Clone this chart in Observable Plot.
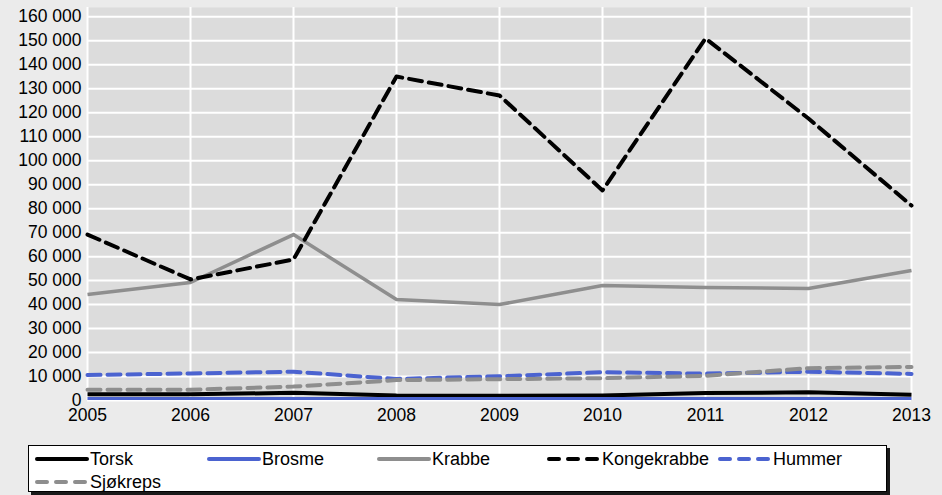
<!DOCTYPE html>
<html>
<head>
<meta charset="utf-8">
<script src="https://cdn.jsdelivr.net/npm/d3@7"></script>
<script src="https://cdn.jsdelivr.net/npm/@observablehq/plot@0.6"></script>
<style>
  html, body { margin: 0; padding: 0; background: #ebebeb; }
  #wrap { position: relative; width: 942px; height: 495px; background: #ebebeb; overflow: hidden;
          font-family: "Liberation Sans", Arial, sans-serif; }
  #chart { position: absolute; left: 0; top: 0; }
  #legend { position: absolute; left: 28px; top: 445px; width: 857px; height: 45px;
            border: 1px solid #000; background: #fff; box-shadow: 3px 3px 0 #1a1a1a; }
  .item { position: absolute; height: 20px; display: flex; align-items: center; font-size: 18px; color: #000; white-space: nowrap; }
  .item svg { display: block; margin-right: 1px; }
</style>
</head>
<body>
<div id="wrap">
  <div id="chart"></div>
  <div id="legend"></div>
</div>
<script>
const years = [2005, 2006, 2007, 2008, 2009, 2010, 2011, 2012, 2013];
const torsk = [2600, 2600, 3200, 2100, 2000, 2100, 3100, 3400, 2400];
const brosme = [800, 800, 800, 800, 800, 800, 800, 800, 800];
const krabbe = [44200, 49200, 69200, 42100, 40000, 48000, 47100, 46700, 54200];
const kongekrabbe = [69200, 50500, 58800, 135100, 127200, 87600, 151000, 117600, 81300];
const hummer = [10600, 11300, 12000, 9000, 10100, 11800, 11200, 12000, 11100];
const sjokreps = [4500, 4500, 5800, 8500, 8900, 9300, 10300, 13500, 14000];
const yTicks = [0, 10000, 20000, 30000, 40000, 50000, 60000, 70000, 80000, 90000, 100000, 110000, 120000, 130000, 140000, 150000, 160000];

const seriesNames = ["Torsk", "Brosme", "Krabbe", "Kongekrabbe", "Hummer", "Sjøkreps"];
const seriesValues = [torsk, brosme, krabbe, kongekrabbe, hummer, sjokreps];
const seriesStyle = {
  "Torsk":       {stroke: "#000000", width: 4, dash: null},
  "Brosme":      {stroke: "#4b63d0", width: 3, dash: null},
  "Krabbe":      {stroke: "#8e8e8e", width: 3.5, dash: null},
  "Kongekrabbe": {stroke: "#000000", width: 4, dash: "13,7"},
  "Hummer":      {stroke: "#4b63d0", width: 4, dash: "13,7"},
  "Sjøkreps":    {stroke: "#8e8e8e", width: 4, dash: "13,7"}
};

const fmt = d => d3.format(",")(d).replace(/,/g, " ");

const lineMarks = seriesNames.map((name, i) => {
  const data = years.map((y, j) => ({year: y, value: seriesValues[i][j]}));
  const s = seriesStyle[name];
  return Plot.line(data, {
    x: "year", y: "value", stroke: s.stroke, strokeWidth: s.width,
    strokeDasharray: s.dash, strokeLinejoin: "round", strokeLinecap: s.dash ? "round" : "butt"
  });
});

const chart = Plot.plot({
  width: 942,
  height: 432,
  marginLeft: 87,
  marginRight: 31,
  marginTop: 7,
  marginBottom: 32,
  style: {background: "transparent", fontFamily: "'Liberation Sans', Arial, sans-serif", fontSize: "17.5px", color: "#000"},
  x: {type: "linear", domain: [2005, 2013], label: null},
  y: {domain: [0, 163900], label: null},
  marks: [
    Plot.frame({fill: "#dcdcdc", stroke: null}),
    Plot.gridX(years, {stroke: "#ffffff", strokeOpacity: 1, strokeWidth: 2}),
    Plot.gridY(yTicks, {stroke: "#ffffff", strokeOpacity: 1, strokeWidth: 2}),
    Plot.axisX(years, {tickSize: 0, tickPadding: 8, tickFormat: d => String(d), fill: "#000", label: null}),
    Plot.axisY(yTicks, {tickSize: 0, tickPadding: 6, tickFormat: fmt, fill: "#000", label: null}),
    ...lineMarks
  ]
});
document.getElementById("chart").appendChild(chart);

// Legend
const legend = d3.select("#legend");
const pos = [
  {left: 6, top: 3}, {left: 178, top: 3}, {left: 348, top: 3}, {left: 518, top: 3}, {left: 689, top: 3},
  {left: 6, top: 26}
];
seriesNames.forEach((name, i) => {
  const s = seriesStyle[name];
  const item = legend.append("div").attr("class", "item")
    .style("left", pos[i].left + "px").style("top", pos[i].top + "px");
  const svg = item.append("svg").attr("width", 54).attr("height", 10);
  svg.append("line").attr("x1", 2).attr("x2", 52).attr("y1", 5).attr("y2", 5)
    .attr("stroke", s.stroke).attr("stroke-width", 4)
    .attr("stroke-linecap", "round")
    .attr("stroke-dasharray", s.dash ? "10,9" : null);
  item.append("span").text(name);
});
</script>
</body>
</html>
